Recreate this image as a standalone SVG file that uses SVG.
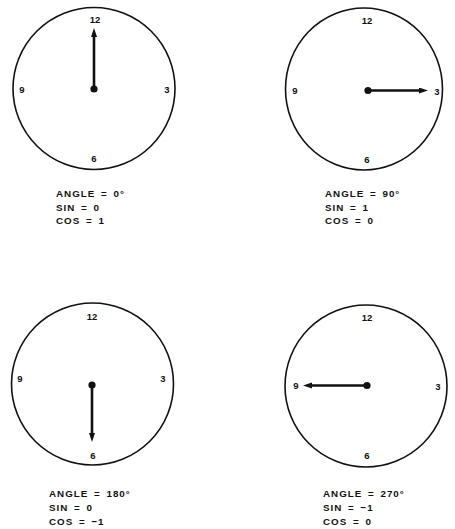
<svg xmlns="http://www.w3.org/2000/svg" width="455" height="529" viewBox="0 0 455 529">
<style>
.face{fill:none;stroke:#111;stroke-width:1.6}
.hand{stroke:#111;stroke-width:2.6;fill:none;marker-end:url(#ah)}
.hub{fill:#111}
.num{font-family:"Liberation Sans",Arial,sans-serif;font-weight:bold;font-size:9.5px;fill:#111;text-anchor:middle}
.lbl{font-family:"Liberation Sans",Arial,sans-serif;font-weight:bold;font-size:9.8px;fill:#111;letter-spacing:1px;word-spacing:2px}
</style>
<defs>
<marker id="ah" markerUnits="userSpaceOnUse" markerWidth="10" markerHeight="7" refX="4" refY="3" orient="auto">
<path d="M0,0 L9,3 L0,6 z" fill="#111"/>
</marker>
</defs>
<rect width="455" height="529" fill="#fff"/>
<g id="clock1">
<circle class="face" cx="94" cy="88.5" r="81"/>
<text class="num" x="95" y="23">12</text>
<text class="num" x="22" y="92.5">9</text>
<text class="num" x="167" y="92.5">3</text>
<text class="num" x="94" y="161.5">6</text>
<text class="lbl" x="56" y="197">ANGLE = 0°</text>
<text class="lbl" x="56" y="210.5">SIN = 0</text>
<text class="lbl" x="56" y="224">COS = 1</text>
</g>
<g id="clock2">
<ellipse class="face" cx="364" cy="89" rx="78.5" ry="81"/>
<text class="num" x="367" y="23.5">12</text>
<text class="num" x="295" y="93.5">9</text>
<text class="num" x="437" y="94.5">3</text>
<text class="num" x="367" y="162.5">6</text>
<text class="lbl" x="325" y="197">ANGLE = 90°</text>
<text class="lbl" x="325" y="210.5">SIN = 1</text>
<text class="lbl" x="325" y="224">COS = 0</text>
</g>
<g id="clock3">
<circle class="face" cx="92.5" cy="384" r="81"/>
<text class="num" x="92" y="319.5">12</text>
<text class="num" x="20" y="381.5">9</text>
<text class="num" x="163" y="381.5">3</text>
<text class="num" x="93" y="458.5">6</text>
<text class="lbl" x="49" y="497">ANGLE = 180°</text>
<text class="lbl" x="49" y="511">SIN = 0</text>
<text class="lbl" x="49" y="525">COS = −1</text>
</g>
<g id="clock4">
<circle class="face" cx="366" cy="386" r="81"/>
<text class="num" x="367" y="320.5">12</text>
<text class="num" x="296" y="388.5">9</text>
<text class="num" x="438" y="389.5">3</text>
<text class="num" x="367" y="458.5">6</text>
<text class="lbl" x="323" y="497">ANGLE = 270°</text>
<text class="lbl" x="323" y="511">SIN = −1</text>
<text class="lbl" x="323" y="525">COS = 0</text>
</g>
<g id="connectors">
<line class="hand" x1="94" y1="89" x2="94" y2="33"/>
<circle class="hub" cx="94" cy="89" r="3.6"/>
<line class="hand" x1="368" y1="90.5" x2="423" y2="90.5"/>
<circle class="hub" cx="368" cy="90.5" r="3.6"/>
<line class="hand" x1="92" y1="385" x2="92" y2="437"/>
<circle class="hub" cx="92" cy="385" r="3.6"/>
<line class="hand" x1="367" y1="385.5" x2="308" y2="385.5"/>
<circle class="hub" cx="367" cy="385.5" r="3.6"/>
</g>
</svg>
